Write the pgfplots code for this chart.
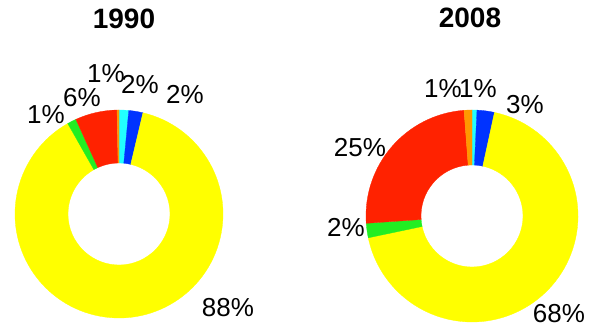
\documentclass[border=0pt]{standalone}
\usepackage{pgfplots}
\usepackage{pgfplotstable}
\pgfplotsset{compat=1.18}
\usepackage{fontspec}
\setmainfont{Liberation Sans}
\definecolor{cYellow}{HTML}{FFFF00}
\definecolor{cRed}{HTML}{FF2200}
\definecolor{cGreen}{HTML}{22EE22}
\definecolor{cBlue}{HTML}{0033FF}
\definecolor{cCyan}{HTML}{22FFFF}
\definecolor{cOrange}{HTML}{FF9900}

% share = drawn share (%), pct = printed label, lx/ly = label position
\pgfplotstableread{
share pct lx ly col
1.5 2 140 243 cCyan
2.2 2 185 233 cBlue
88.1 88 228 20 cYellow
1.4 1 46 213 cGreen
6.5 6 82 230 cRed
0.3 1 106 254 cOrange
}\tabA

\pgfplotstableread{
share pct lx ly col
0.75 1 478 239 cCyan
2.65 3 525 223 cBlue
68.3 68 559 14 cYellow
2.2 2 346 100 cGreen
24.9 25 360 180 cRed
1.2 1 443 239 cOrange
}\tabB

\newcommand\donut[5]{%
  \pgfplotstablegetrowsof{#1}\edef\nrows{\pgfplotsretval}%
  \def\cum{0}%
  \pgfplotsforeachungrouped \i in {1,...,\nrows}{%
    \pgfmathtruncatemacro\row{\i-1}%
    \pgfplotstablegetelem{\row}{share}\of{#1}\let\sh\pgfplotsretval
    \pgfplotstablegetelem{\row}{col}\of{#1}\let\cc\pgfplotsretval
    \pgfplotstablegetelem{\row}{pct}\of{#1}\let\pc\pgfplotsretval
    \pgfplotstablegetelem{\row}{lx}\of{#1}\let\lx\pgfplotsretval
    \pgfplotstablegetelem{\row}{ly}\of{#1}\let\ly\pgfplotsretval
    \pgfmathsetmacro\aA{90-3.6*\cum}%
    \pgfmathsetmacro\cum{\cum+\sh}%
    \pgfmathsetmacro\aB{90-3.6*\cum}%
    \edef\tmp{\noexpand\fill[\cc, draw=\cc, line width=0.3pt] ([shift={(\aA:#4pt)}]axis cs:#2,#3) arc[start angle=\aA, end angle=\aB, radius=#4pt] -- ([shift={(\aB:#5pt)}]axis cs:#2,#3) arc[start angle=\aB, end angle=\aA, radius=#5pt] -- cycle;}%
    \tmp
    \edef\tmp{\noexpand\node[inner sep=0pt, text=black, font=\noexpand\fontsize{26}{26}\noexpand\selectfont] at (axis cs:\lx,\ly) {\pc\noexpand\%};}%
    \tmp
  }%
}

\begin{document}
\begin{tikzpicture}
\begin{axis}[x=1pt, y=1pt, xmin=0, xmax=592, ymin=0, ymax=328,
  hide axis, clip=false]
\donut{\tabA}{119}{114}{104}{51}
\donut{\tabB}{472}{112}{106}{51}
\node[inner sep=0pt, font=\bfseries\fontsize{28}{28}\selectfont] at (axis cs:124,309) {1990};
\node[inner sep=0pt, font=\bfseries\fontsize{28}{28}\selectfont] at (axis cs:470,310) {2008};
\end{axis}
\pgfresetboundingbox
\path (0,0) rectangle (592pt,328pt);
\end{tikzpicture}
\end{document}
